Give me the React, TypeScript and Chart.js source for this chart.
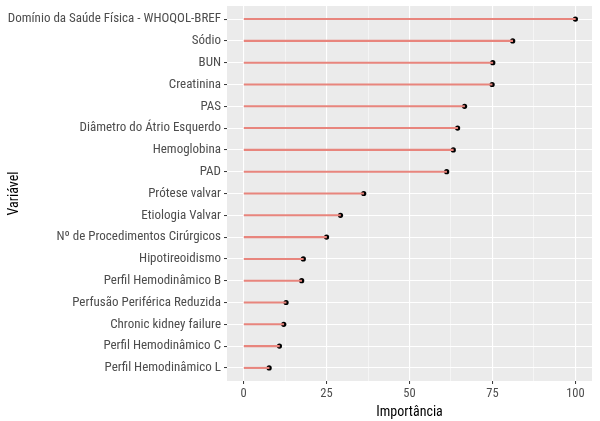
import React, { useEffect, useRef } from "react";
import { Chart, registerables } from "chart.js";

Chart.register(...registerables);

const categories: string[] = [
  "Domínio da Saúde Física - WHOQOL-BREF",
  "Sódio",
  "BUN",
  "Creatinina",
  "PAS",
  "Diâmetro do Átrio Esquerdo",
  "Hemoglobina",
  "PAD",
  "Prótese valvar",
  "Etiologia Valvar",
  "Nº de Procedimentos Cirúrgicos",
  "Hipotireoidismo",
  "Perfil Hemodinâmico B",
  "Perfusão Periférica Reduzida",
  "Chronic kidney failure",
  "Perfil Hemodinâmico C",
  "Perfil Hemodinâmico L",
];

const importance: number[] = [
  100, 81.1, 75.1, 74.9, 66.6, 64.5, 63.2, 61.2, 36.2, 29.2, 25.0, 18.0, 17.5,
  12.8, 12.1, 10.8, 7.7,
];

const xTickValues: number[] = [0, 12.5, 25, 37.5, 50, 62.5, 75, 87.5, 100];

const FONT = "'Liberation Sans Narrow', 'Roboto Condensed', Roboto, sans-serif";

const panelBg = {
  id: "panelBg",
  beforeDraw(chart: any) {
    const { ctx, chartArea } = chart;
    ctx.save();
    ctx.fillStyle = "#EBEBEB";
    ctx.fillRect(chartArea.left, chartArea.top, chartArea.right - chartArea.left, chartArea.bottom - chartArea.top);
    ctx.restore();
  },
};

export default function App() {
  const ref = useRef<HTMLCanvasElement | null>(null);

  useEffect(() => {
    document.body.style.margin = "0";
    const canvas = ref.current;
    if (!canvas) return;
    const isMajor = (v: number) => Math.abs(v % 25) < 1e-9;
    const chart = new Chart(canvas, {
      type: "bar",
      data: {
        datasets: [
          {
            type: "bar",
            indexAxis: "y",
            data: importance.map((v, i) => ({ x: [0, v], y: i + 1 })) as any,
            backgroundColor: "#E8857D",
            borderWidth: 0,
            barThickness: 1.4,
          } as any,
          {
            type: "scatter",
            data: importance.map((v, i) => ({ x: v, y: i + 1 })),
            backgroundColor: "#000000",
            borderColor: "#000000",
            pointRadius: 2.6,
            borderWidth: 0,
            showLine: false,
          } as any,
        ],
      },
      options: {
        animation: false,
        responsive: false,
        maintainAspectRatio: false,
        layout: { padding: { top: 6, right: 8, left: 0, bottom: 0 } },
        plugins: { legend: { display: false }, tooltip: { enabled: false } },
        scales: {
          x: {
            type: "linear",
            offset: false,
            min: -5,
            max: 105,
            afterBuildTicks: (scale: any) => {
              scale.ticks = xTickValues.map((v) => ({ value: v }));
            },
            afterFit: (scale: any) => {
              scale.height = 40;
              scale.paddingLeft = 0;
              scale.paddingRight = 0;
            },
            ticks: {
              callback: (v: any) => (isMajor(Number(v)) ? String(v) : ""),
              color: "#4D4D4D",
              font: { family: FONT, size: 12.5 },
              padding: 2,
              maxRotation: 0,
              autoSkip: false,
            },
            grid: {
              offset: false,
              color: "#FFFFFF",
              lineWidth: (ctx: any) => (ctx.tick && isMajor(ctx.tick.value) ? 1.1 : 0.5),
              tickColor: (ctx: any) => (ctx.tick && isMajor(ctx.tick.value) ? "#333333" : "rgba(0,0,0,0)"),
              tickLength: 3,
              tickWidth: 1,
            },
            border: { display: false },
            title: {
              display: true,
              text: "Importância",
              color: "#000000",
              font: { family: FONT, size: 14 },
              padding: { top: 1, bottom: 0 },
            },
          },
          y: {
            type: "linear",
            offset: false,
            reverse: true,
            min: 0.4,
            max: 17.6,
            afterBuildTicks: (scale: any) => {
              scale.ticks = categories.map((_, i) => ({ value: i + 1 }));
            },
            afterFit: (scale: any) => {
              scale.width = 227;
              scale.paddingTop = 0;
              scale.paddingBottom = 0;
            },
            ticks: {
              callback: (v: any) => categories[Number(v) - 1] ?? "",
              color: "#4D4D4D",
              font: { family: FONT, size: 13 },
              padding: 3,
              autoSkip: false,
            },
            grid: {
              offset: false,
              color: "#FFFFFF",
              lineWidth: 1.1,
              tickColor: "#333333",
              tickLength: 3,
              tickWidth: 1,
            },
            border: { display: false },
            title: {
              display: true,
              text: "Variável",
              color: "#000000",
              font: { family: FONT, size: 14 },
              padding: { top: 6, bottom: 0 },
            },
          },
        },
      },
      plugins: [panelBg],
    });
    return () => chart.destroy();
  }, []);

  return (
    <div style={{ width: 600, height: 421 }}>
      <canvas ref={ref} width={600} height={421} style={{ display: "block" }} />
    </div>
  );
}
